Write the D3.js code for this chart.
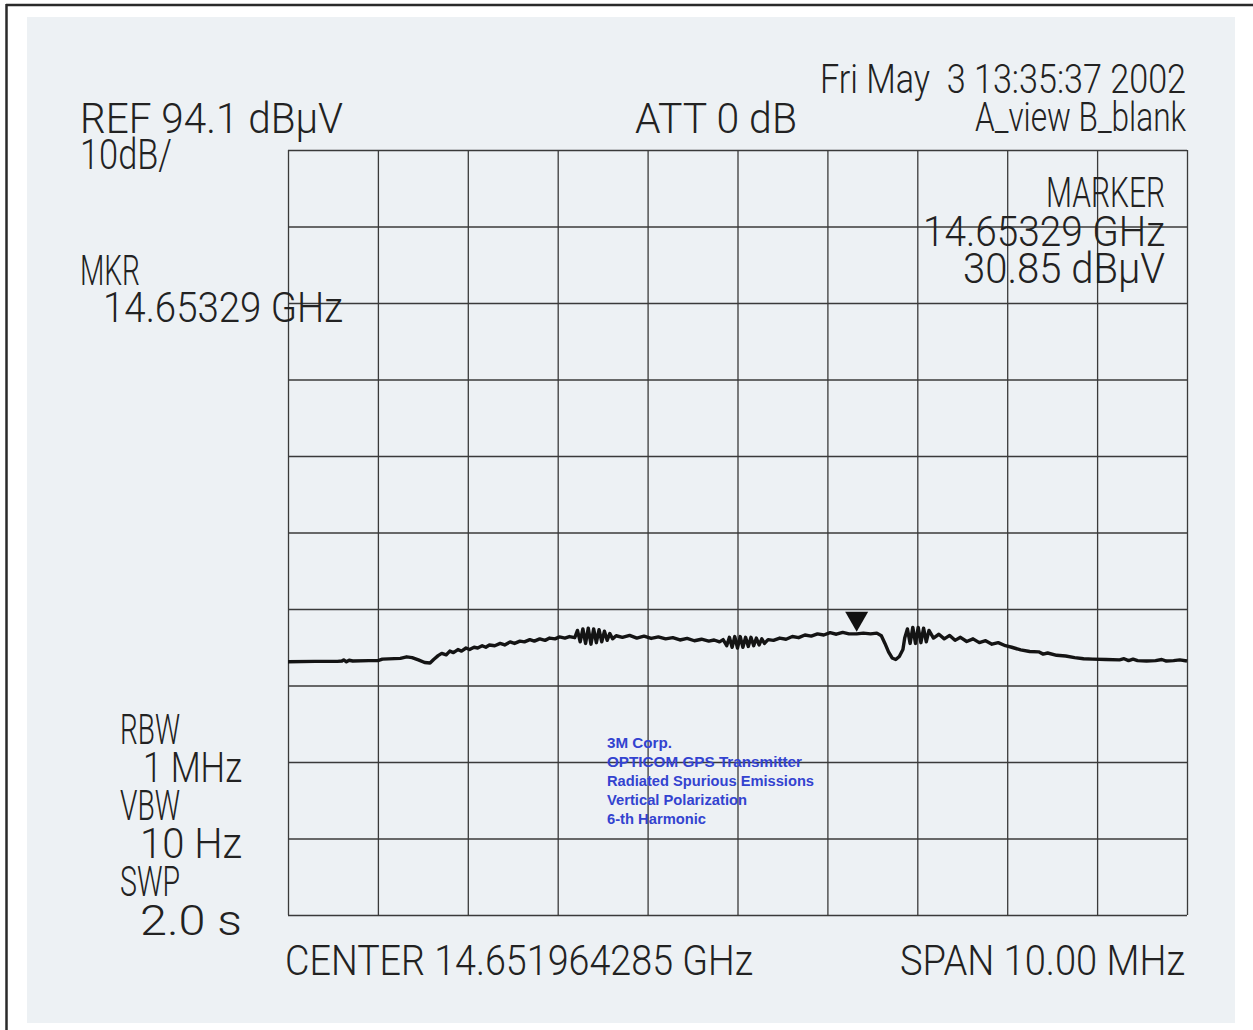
<!DOCTYPE html>
<html>
<head>
<meta charset="utf-8">
<script src="https://cdn.jsdelivr.net/npm/d3@7"></script>
<style>
html,body{margin:0;padding:0;background:#ffffff;}
svg{display:block;}
</style>
</head>
<body>
<svg id="chart" width="1253" height="1030"></svg>
<script>
// ---- data ----
const refLevel = 94.1;          // dBµV, top of screen
const dbPerDiv = 10;
const divisionsY = 10;
const centerGHz = 14.651964285;
const spanMHz = 10.0;
const markerFreqGHz = 14.65329;
const markerLevel = 30.85;

// trace: offset from centre (MHz), level (dBµV)
const traceFreq = [
 -5.00,-4.70,-4.45,-4.40,-4.38,-4.35,-4.32,-4.28,-4.10,-4.00,-3.95,-3.75,-3.68,-3.62,-3.55,-3.48,-3.42,-3.38,
 -3.33,-3.29,-3.24,-3.20,-3.16,-3.11,-3.07,-3.02,-2.98,-2.93,-2.89,-2.84,-2.80,-2.76,-2.70,-2.64,-2.59,-2.53,
 -2.48,-2.42,-2.37,-2.31,-2.26,-2.20,-2.14,-2.09,-2.03,-1.98,-1.92,-1.87,-1.81,
 -1.78,-1.75,-1.72,-1.69,-1.66,-1.63,-1.60,-1.57,-1.54,-1.51,-1.48,-1.45,-1.42,-1.39,
 -1.35,-1.28,-1.20,-1.12,-1.04,-0.96,-0.88,-0.80,-0.72,-0.64,-0.56,-0.48,-0.40,-0.32,-0.26,
 -0.20,-0.16,-0.12,-0.09,-0.06,-0.03,0.00,0.03,0.06,0.09,0.12,0.15,0.18,0.21,0.24,0.27,0.30,0.34,
 0.40,0.47,0.54,0.61,0.68,0.75,0.82,0.89,0.96,1.03,1.10,1.17,1.24,1.3257,1.40,1.48,1.55,
 1.60,1.64,1.68,1.72,1.76,1.80,1.84,
 1.86,1.89,1.92,1.95,1.98,2.01,2.04,2.07,2.10,2.13,
 2.18,2.24,2.30,2.36,2.42,2.48,2.55,2.62,2.69,2.76,2.83,2.90,2.98,
 3.05,3.15,3.25,3.35,3.40,3.45,3.55,3.65,3.75,3.85,3.95,4.10,4.25,4.30,4.35,4.40,4.45,4.55,4.65,4.72,4.77,4.85,4.92,5.00
];
const traceLevel = [
 27.20,27.25,27.25,27.30,27.45,27.20,27.40,27.30,27.35,27.35,27.55,27.65,27.85,27.75,27.45,27.10,27.05,27.50,
 28.00,28.30,28.10,28.60,28.40,28.80,28.60,29.00,28.80,29.10,29.00,29.30,29.10,29.40,29.30,29.60,29.40,29.80,
 29.60,29.90,29.80,30.10,29.90,30.20,30.00,30.30,30.20,30.45,30.30,30.50,30.35,
 31.30,29.80,31.50,29.60,31.60,29.50,31.50,29.70,31.40,29.80,31.20,30.00,30.90,30.20,
 30.60,30.40,30.65,30.30,30.55,30.25,30.45,30.20,30.35,30.05,30.25,29.95,30.15,29.90,30.05,
 29.80,30.10,29.30,30.40,29.10,30.50,29.00,30.50,29.10,30.40,29.20,30.40,29.30,30.30,29.40,30.20,29.60,30.10,
 30.00,30.30,30.15,30.50,30.35,30.70,30.55,30.85,30.70,31.00,30.80,31.05,30.85,30.85,30.95,30.85,30.95,
 30.60,29.60,28.50,27.70,27.50,27.90,28.80,
 30.30,31.50,29.60,31.70,29.60,31.70,29.70,31.60,29.80,31.30,
 30.30,30.80,30.20,30.65,30.00,30.40,29.85,30.20,29.70,29.95,29.50,29.70,29.30,
 29.10,28.75,28.55,28.50,28.20,28.35,28.05,27.95,27.75,27.60,27.55,27.50,27.45,27.60,27.35,27.55,27.35,27.30,27.35,27.50,27.30,27.35,27.45,27.30
];

const headerLeft = ["REF 94.1 dB\u00B5V", "10dB/"];
const headerMid = "ATT 0 dB";
const headerRight = ["Fri May  3 13:35:37 2002", "A_view B_blank"];
const markerBlock = ["MARKER", "14.65329 GHz", "30.85 dB\u00B5V"];
const mkrBlock = ["MKR", "14.65329 GHz"];
const bwBlock = ["RBW", "1 MHz", "VBW", "10 Hz", "SWP", "2.0 s"];
const footer = ["CENTER 14.651964285 GHz", "SPAN 10.00 MHz"];
const notes = ["3M Corp.", "OPTICOM GPS Transmitter", "Radiated Spurious Emissions", "Vertical Polarization", "6-th Harmonic"];

// ---- drawing ----
const svg = d3.select("#chart");
const L = 288, R = 1187, T = 150, B = 915;

const x = d3.scaleLinear().domain([-spanMHz/2, spanMHz/2]).range([L, R]);
const y = d3.scaleLinear().domain([refLevel - dbPerDiv*divisionsY, refLevel]).range([B, T]);

// page frame & paper
svg.append("rect").attr("x",0).attr("y",0).attr("width",1253).attr("height",1030).attr("fill","#ffffff");
svg.append("line").attr("x1",6).attr("x2",1253).attr("y1",5).attr("y2",5).attr("stroke","#2a2a2a").attr("stroke-width",2.5);
svg.append("line").attr("x1",6.5).attr("x2",6.5).attr("y1",4).attr("y2",1030).attr("stroke","#2a2a2a").attr("stroke-width",2.5);
svg.append("rect").attr("x",27).attr("y",17).attr("width",1208).attr("height",1006).attr("fill","#edf1f4");

// grid via axes
const xTicks = d3.range(0, 11).map(i => -spanMHz/2 + i*spanMHz/10);
const yTicks = d3.range(0, divisionsY+1).map(i => refLevel - i*dbPerDiv);

const gx = svg.append("g").attr("transform", `translate(0,${B})`)
  .call(d3.axisBottom(x).tickValues(xTicks).tickSize(-(B-T)).tickFormat(""));
const gy = svg.append("g").attr("transform", `translate(${L},0)`)
  .call(d3.axisLeft(y).tickValues(yTicks).tickSize(-(R-L)).tickFormat(""));
[gx, gy].forEach(g => {
  g.select(".domain").remove();
  g.selectAll(".tick line").attr("stroke","#3a3a3a").attr("stroke-width",1.3);
});

// trace
const pts = traceFreq.map((f,i) => [f, traceLevel[i]]);
svg.append("path")
  .datum(pts)
  .attr("fill","none")
  .attr("stroke","#141414")
  .attr("stroke-width",3.4)
  .attr("stroke-linejoin","round")
  .attr("d", d3.line().x(d => x(d[0])).y(d => y(d[1])));

// marker triangle
const mx = x((markerFreqGHz - centerGHz)*1000);
const my = y(markerLevel) - 2;
svg.append("path")
  .attr("d", `M${mx},${my} L${mx-11.5},${my-20} L${mx+11.5},${my-20} Z`)
  .attr("fill","#111");

// text helper
const FONT = "Roboto, 'DejaVu Sans', sans-serif";
function txt(s, x0, x1, base, size) {
  return svg.append("text")
    .attr("x", x0)
    .attr("y", base)
    .attr("font-family", FONT)
    .attr("font-weight", 300)
    .attr("font-size", size)
    .attr("fill", "#222")
    .attr("xml:space","preserve")
    .style("white-space","pre")
    .attr("textLength", x1 - x0)
    .attr("lengthAdjust","spacingAndGlyphs")
    .text(s);
}

txt(headerLeft[0], 80, 343, 133, 42);
txt(headerLeft[1], 80, 172, 169, 42);
txt(headerMid, 635, 797, 133, 42);
txt(headerRight[0], 820, 1186, 93, 40);
txt(headerRight[1], 975, 1186, 131, 40);

txt(markerBlock[0], 1046, 1165, 207, 42);
txt(markerBlock[1], 923, 1165, 246, 42);
txt(markerBlock[2], 963, 1165, 283, 42);

txt(mkrBlock[0], 80, 140, 285, 42);
txt(mkrBlock[1], 103, 343, 322, 42);

const bwX = [[120,180],[143,242],[120,180],[140,242],[120,180],[140,242]];
const bwY = [744, 782, 820, 858, 896, 935];
bwBlock.forEach((s,i) => txt(s, bwX[i][0], bwX[i][1], bwY[i], 42));

txt(footer[0], 285, 753, 975, 42);
txt(footer[1], 900, 1185, 975, 42);

// blue annotation
const noteEnd = [672, 802, 814, 747, 706];
notes.forEach((s,i) => {
  svg.append("text")
    .attr("x", 607).attr("y", 748 + i*19)
    .attr("font-family", "'Liberation Sans', Arial, sans-serif")
    .attr("font-size", 14)
    .attr("font-weight", "bold")
    .attr("fill", "#3343d0")
    .attr("textLength", noteEnd[i] - 607)
    .attr("lengthAdjust","spacingAndGlyphs")
    .text(s);
});
</script>
</body>
</html>
